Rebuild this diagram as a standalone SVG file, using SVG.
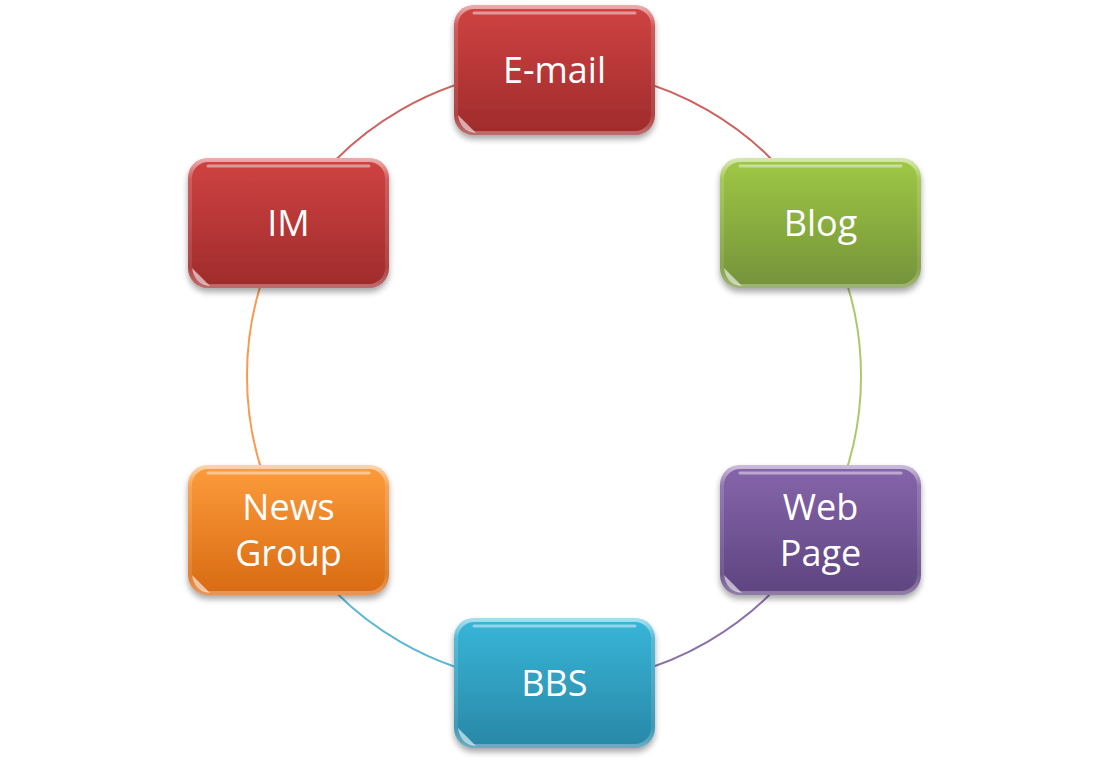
<svg xmlns="http://www.w3.org/2000/svg" width="1111" height="760" viewBox="0 0 1111 760">
<defs>
<linearGradient id="gRed" x1="0" y1="0" x2="0" y2="1"><stop offset="0" stop-color="#d04343"/><stop offset="1" stop-color="#9f2b2b"/></linearGradient>
<linearGradient id="gGreen" x1="0" y1="0" x2="0" y2="1"><stop offset="0" stop-color="#a0c945"/><stop offset="1" stop-color="#74923a"/></linearGradient>
<linearGradient id="gPurple" x1="0" y1="0" x2="0" y2="1"><stop offset="0" stop-color="#8666ab"/><stop offset="1" stop-color="#5e4480"/></linearGradient>
<linearGradient id="gBlue" x1="0" y1="0" x2="0" y2="1"><stop offset="0" stop-color="#38b6d8"/><stop offset="1" stop-color="#2987a7"/></linearGradient>
<linearGradient id="gOrange" x1="0" y1="0" x2="0" y2="1"><stop offset="0" stop-color="#fd9c3c"/><stop offset="1" stop-color="#d86a12"/></linearGradient>
<linearGradient id="gEdge" x1="0" y1="0" x2="0" y2="1"><stop offset="0" stop-color="#fff" stop-opacity="0.55"/><stop offset="0.15" stop-color="#fff" stop-opacity="0.15"/><stop offset="0.85" stop-color="#fff" stop-opacity="0.1"/><stop offset="1" stop-color="#fff" stop-opacity="0.3"/></linearGradient>
<filter id="sh" x="-10%" y="-10%" width="120%" height="130%"><feGaussianBlur in="SourceAlpha" stdDeviation="3"/><feOffset dy="4" result="b"/><feComponentTransfer><feFuncA type="linear" slope="0.35"/></feComponentTransfer><feMerge><feMergeNode/><feMergeNode in="SourceGraphic"/></feMerge></filter>
</defs>
<style>
.arc{fill:none;stroke-width:2}
.box{filter:url(#sh)}
.edge{fill:none;stroke:url(#gEdge);stroke-width:4}
.top{fill:none;stroke:#fff;stroke-opacity:0.45;stroke-width:3;stroke-linecap:round}
.glint{fill:#fff;fill-opacity:0.6}
.lbl{font-family:"Open Sans","Noto Sans",sans-serif;font-size:36px;fill:#fff;text-anchor:middle}
</style>
<rect width="1111" height="760" fill="#fff"/>
<g id="connectors">
<path class="arc" stroke="#cd6360" d="M554 69 A307 307 0 0 1 819.9 222.5"/>
<path class="arc" stroke="#a9c96a" d="M819.9 222.5 A307 307 0 0 1 819.9 529.5"/>
<path class="arc" stroke="#8a70ad" d="M819.9 529.5 A307 307 0 0 1 554 683"/>
<path class="arc" stroke="#5bb8d2" d="M554 683 A307 307 0 0 1 288.1 529.5"/>
<path class="arc" stroke="#f99a50" d="M288.1 529.5 A307 307 0 0 1 288.1 222.5"/>
<path class="arc" stroke="#cd6360" d="M288.1 222.5 A307 307 0 0 1 554 69"/>
</g>
<g id="email" transform="translate(454,5)">
<rect class="box" width="201" height="130" rx="20" fill="url(#gRed)"/>
<rect class="edge" x="2" y="2" width="197" height="126" rx="18"/>
<path class="top" d="M20 8 H181"/>
<path class="glint" d="M4 110 Q6 126 22 128 Q12 118 4 110Z"/>
<text class="lbl" x="100.5" y="78">E-mail</text>
</g>
<g id="blog" transform="translate(720,158)">
<rect class="box" width="201" height="130" rx="20" fill="url(#gGreen)"/>
<rect class="edge" x="2" y="2" width="197" height="126" rx="18"/>
<path class="top" d="M20 8 H181"/>
<path class="glint" d="M4 110 Q6 126 22 128 Q12 118 4 110Z"/>
<text class="lbl" x="100.5" y="78">Blog</text>
</g>
<g id="webpage" transform="translate(720,465)">
<rect class="box" width="201" height="130" rx="20" fill="url(#gPurple)"/>
<rect class="edge" x="2" y="2" width="197" height="126" rx="18"/>
<path class="top" d="M20 8 H181"/>
<path class="glint" d="M4 110 Q6 126 22 128 Q12 118 4 110Z"/>
<text class="lbl" x="100.5" y="55">Web</text>
<text class="lbl" x="100.5" y="101">Page</text>
</g>
<g id="bbs" transform="translate(454,618)">
<rect class="box" width="201" height="130" rx="20" fill="url(#gBlue)"/>
<rect class="edge" x="2" y="2" width="197" height="126" rx="18"/>
<path class="top" d="M20 8 H181"/>
<path class="glint" d="M4 110 Q6 126 22 128 Q12 118 4 110Z"/>
<text class="lbl" x="100.5" y="78">BBS</text>
</g>
<g id="newsgroup" transform="translate(188,465)">
<rect class="box" width="201" height="130" rx="20" fill="url(#gOrange)"/>
<rect class="edge" x="2" y="2" width="197" height="126" rx="18"/>
<path class="top" d="M20 8 H181"/>
<path class="glint" d="M4 110 Q6 126 22 128 Q12 118 4 110Z"/>
<text class="lbl" x="100.5" y="55">News</text>
<text class="lbl" x="100.5" y="101">Group</text>
</g>
<g id="im" transform="translate(188,158)">
<rect class="box" width="201" height="130" rx="20" fill="url(#gRed)"/>
<rect class="edge" x="2" y="2" width="197" height="126" rx="18"/>
<path class="top" d="M20 8 H181"/>
<path class="glint" d="M4 110 Q6 126 22 128 Q12 118 4 110Z"/>
<text class="lbl" x="100.5" y="78">IM</text>
</g>
</svg>
